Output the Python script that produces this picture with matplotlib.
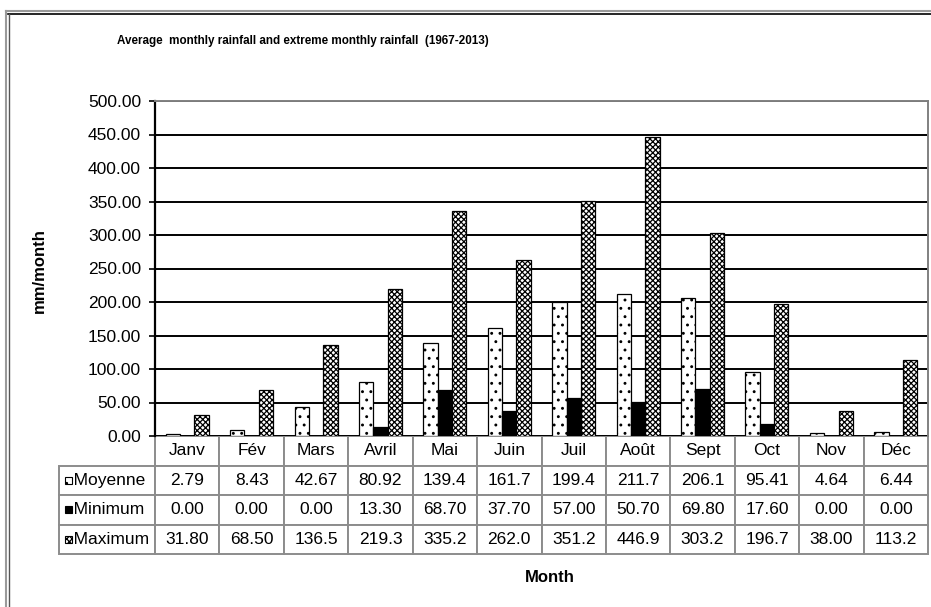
import matplotlib.pyplot as plt
import numpy as np
from matplotlib.patches import Rectangle
from matplotlib.lines import Line2D

plt.rcParams['font.family'] = ['Liberation Sans', 'DejaVu Sans']
plt.rcParams['hatch.linewidth'] = 0.9

# Monthly rainfall, 1967-2013 (mm/month)
months = ["Janv", "Fév", "Mars", "Avril", "Mai", "Juin",
          "Juil", "Août", "Sept", "Oct", "Nov", "Déc"]
moyenne = [2.79, 8.43, 42.67, 80.92, 139.4, 161.7, 199.4, 211.7, 206.1, 95.41, 4.64, 6.44]
minimum = [0.00, 0.00, 0.00, 13.30, 68.70, 37.70, 57.00, 50.70, 69.80, 17.60, 0.00, 0.00]
maximum = [31.80, 68.50, 136.5, 219.3, 335.2, 262.0, 351.2, 446.9, 303.2, 196.7, 38.00, 113.2]
series_names = ["Moyenne", "Minimum", "Maximum"]
series = [moyenne, minimum, maximum]

styles = [dict(facecolor="white", hatch=".."),
          dict(facecolor="black", hatch=None),
          dict(facecolor="white", hatch="xxxxxx")]


def fmt(v):
    return f"{v:.1f}" if v >= 100 else f"{v:.2f}"


W, H = 931, 607
fig = plt.figure(figsize=(W / 100, H / 100), dpi=100)
ax = fig.add_axes([155 / W, 1 - 436 / H, 773 / W, 335 / H])

x = np.arange(len(months))
bw = 1 / 4.5
for i, (vals, st) in enumerate(zip(series, styles)):
    ax.bar(x + (i - 1) * bw, vals, width=bw, edgecolor="black", linewidth=0.9,
           zorder=3, **st)

ax.set_xlim(-0.5, 11.5)
ax.set_ylim(0, 500)
ax.set_yticks(np.arange(0, 501, 50))
ax.set_yticklabels([f"{t:.2f}" for t in np.arange(0, 501, 50)], fontsize=12.5)
ax.set_xticks([])
ax.tick_params(axis="y", length=4, width=1.2, pad=6)
ax.yaxis.grid(True, color="black", linewidth=1.4, zorder=0)
ax.set_axisbelow(True)
ax.spines["left"].set_linewidth(1.6)
for s in ("top", "right"):
    ax.spines[s].set_color("#808080")
    ax.spines[s].set_linewidth(1.4)
ax.spines["bottom"].set_visible(False)

# data table below the plot
lab_w = 96 / 773
tb_h = 118 / 335
cell_text = [[""] + months]
for name, vals in zip(series_names, series):
    cell_text.append(["   " + name] + [fmt(v) for v in vals])
tbl = ax.table(cellText=cell_text, colWidths=[lab_w] + [1 / 12] * 12,
               cellLoc="center", bbox=[-lab_w, -tb_h, 1 + lab_w, tb_h])
tbl.auto_set_font_size(False)
tbl.set_fontsize(12.5)
for (r, c), cell in tbl.get_celld().items():
    cell.set_edgecolor("#8c8c8c")
    cell.set_linewidth(1.4)
    if c == 0:
        cell.set_text_props(ha="left")
        cell.PAD = 0.0
    if r == 0 and c == 0:
        cell.visible_edges = ""

# legend keys inside the row label cells
for i, st in enumerate(styles):
    yc = -tb_h + (2.5 - i) * tb_h / 4
    ax.add_patch(Rectangle((-lab_w + 6 / 773, yc - 3.5 / 335), 7 / 773, 7 / 335,
                           transform=ax.transAxes, clip_on=False, edgecolor="black",
                           linewidth=0.8, zorder=5, **st))

fig.text(117 / W, 1 - 41 / H,
         "Average  monthly rainfall and extreme monthly rainfall  (1967-2013)",
         fontsize=8.4, fontweight="bold", ha="left", va="center")
fig.text(39 / W, 1 - 271 / H, "mm/month", rotation=90, fontsize=12,
         fontweight="bold", ha="center", va="center")
fig.text(550 / W, 1 - 577 / H, "Month", fontsize=12, fontweight="bold",
         ha="center", va="center")

# chart frame (top and left edges)
fig.add_artist(Line2D([6 / W, 1], [1 - 11 / H] * 2, transform=fig.transFigure,
                      color="#9a9a9a", linewidth=1.5))
fig.add_artist(Line2D([8 / W, 1], [1 - 13.5 / H] * 2, transform=fig.transFigure,
                      color="black", linewidth=1.2))
fig.add_artist(Line2D([6 / W] * 2, [0, 1 - 11 / H], transform=fig.transFigure,
                      color="#9a9a9a", linewidth=1.5))
fig.add_artist(Line2D([8.5 / W] * 2, [0, 1 - 13.5 / H], transform=fig.transFigure,
                      color="#555555", linewidth=1.0))

fig.savefig("out.png", dpi=100)
